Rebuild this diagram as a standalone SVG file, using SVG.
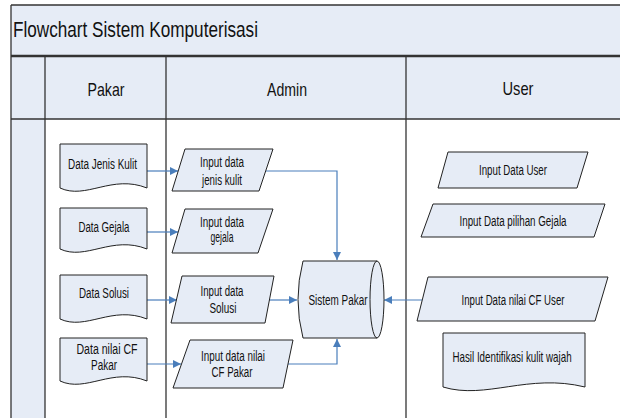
<svg xmlns="http://www.w3.org/2000/svg" width="620" height="418" viewBox="0 0 620 418">
<style>
.lane{fill:#E6ECF6;stroke:none}
.ln{stroke:#333;stroke-width:1.3;fill:none}
.shp{fill:#E6ECF6;stroke:#222;stroke-width:1}
.t{font-family:"Liberation Sans",Arial,sans-serif;font-size:14px;fill:#111;text-anchor:middle}
.h{font-family:"Liberation Sans",Arial,sans-serif;font-size:19px;fill:#111;text-anchor:middle}
.ttl{font-family:"Liberation Sans",Arial,sans-serif;font-size:22px;fill:#111}
.c{fill:none;stroke:#4A7EBB;stroke-width:1.2;marker-end:url(#ah)}
</style>
<defs>
<marker id="ah" viewBox="0 0 10 10" refX="10" refY="5" markerWidth="9" markerHeight="8" markerUnits="userSpaceOnUse" orient="auto">
<path d="M0,0 L10,5 L0,10 z" fill="#4A7EBB"/>
</marker>
</defs>
<rect x="0" y="0" width="620" height="418" fill="#fff"/>
<g id="pool">
<rect class="lane" x="11" y="5" width="609" height="114"/>
<rect class="lane" x="11" y="119" width="34" height="299"/>
<line class="ln" x1="11" y1="5" x2="620" y2="5"/>
<line class="ln" x1="11" y1="5" x2="11" y2="418"/>
<line x1="11" y1="56" x2="620" y2="56" stroke="#333" stroke-width="2.5"/>
<line class="ln" x1="11" y1="119" x2="620" y2="119" stroke-width="1"/>
<line class="ln" x1="45" y1="56" x2="45" y2="418"/>
<line class="ln" x1="166" y1="56" x2="166" y2="418"/>
<line class="ln" x1="406" y1="56" x2="406" y2="418"/>
<text class="ttl" x="13" y="37" textLength="245" lengthAdjust="spacingAndGlyphs">Flowchart Sistem Komputerisasi</text>
<text class="h" x="106" y="96" textLength="37" lengthAdjust="spacingAndGlyphs">Pakar</text>
<text class="h" x="287" y="96" textLength="40" lengthAdjust="spacingAndGlyphs">Admin</text>
<text class="h" x="518" y="95" textLength="31" lengthAdjust="spacingAndGlyphs">User</text>
</g>
<g id="connectors">
<path class="c" d="M147,171 H178"/>
<path class="c" d="M147,232 H178"/>
<path class="c" d="M147,300 H177"/>
<path class="c" d="M147,364 H181"/>
<path class="c" d="M266,171 H337 V260"/>
<path class="c" d="M269,300 H297"/>
<path class="c" d="M288,364 H337 V339"/>
<path class="c" d="M422,300 H384"/>
</g>
<g id="data-jenis-kulit">
<path class="shp" d="M60,144 H147 V188 C112,174 86,200 60,188 Z"/>
<text class="t" x="102.5" y="169" textLength="69" lengthAdjust="spacingAndGlyphs">Data Jenis Kulit</text>
</g>
<g id="data-gejala">
<path class="shp" d="M60,208 H147 V249 C112,235 86,261 60,249 Z"/>
<text class="t" x="104" y="232" textLength="51" lengthAdjust="spacingAndGlyphs">Data Gejala</text>
</g>
<g id="data-solusi">
<path class="shp" d="M60,275 H147 V319 C112,305 86,331 60,319 Z"/>
<text class="t" x="104" y="298" textLength="50" lengthAdjust="spacingAndGlyphs">Data Solusi</text>
</g>
<g id="data-nilai-cf-pakar">
<path class="shp" d="M60,338 H147 V381 C112,367 86,393 60,381 Z"/>
<text class="t" x="107" y="354" textLength="61" lengthAdjust="spacingAndGlyphs">Data nilai CF</text>
<text class="t" x="104" y="370" textLength="26" lengthAdjust="spacingAndGlyphs">Pakar</text>
</g>
<g id="input-jenis-kulit">
<path class="shp" d="M185,149 H273 L259,191 H172 Z"/>
<text class="t" x="222" y="167" textLength="44" lengthAdjust="spacingAndGlyphs">Input data</text>
<text class="t" x="222" y="185" textLength="40" lengthAdjust="spacingAndGlyphs">jenis kulit</text>
</g>
<g id="input-gejala">
<path class="shp" d="M185,209 H273 L258,253 H172 Z"/>
<text class="t" x="222" y="227" textLength="44" lengthAdjust="spacingAndGlyphs">Input data</text>
<text class="t" x="222" y="242" textLength="23" lengthAdjust="spacingAndGlyphs">gejala</text>
</g>
<g id="input-solusi">
<path class="shp" d="M182,276 H274 L265,323 H171 Z"/>
<text class="t" x="222" y="296" textLength="43" lengthAdjust="spacingAndGlyphs">Input data</text>
<text class="t" x="223" y="313" textLength="27" lengthAdjust="spacingAndGlyphs">Solusi</text>
</g>
<g id="input-cf-pakar">
<path class="shp" d="M190,340 H293 L283,388 H173 Z"/>
<text class="t" x="233" y="361" textLength="64" lengthAdjust="spacingAndGlyphs">Input data nilai</text>
<text class="t" x="232" y="377" textLength="41" lengthAdjust="spacingAndGlyphs">CF Pakar</text>
</g>
<g id="sistem-pakar">
<path class="shp" d="M303,261 H377 A7,38.5 0 0 1 377,338 H303 Q293,299.5 303,261 Z"/>
<path d="M377,261 A7,38.5 0 0 0 377,338" fill="none" stroke="#222" stroke-width="1"/>
<text class="t" x="338" y="305" textLength="59" lengthAdjust="spacingAndGlyphs">Sistem Pakar</text>
</g>
<g id="input-data-user">
<path class="shp" d="M448,152 H588 L577,188 H438 Z"/>
<text class="t" x="513" y="175" textLength="68" lengthAdjust="spacingAndGlyphs">Input Data User</text>
</g>
<g id="input-pilihan-gejala">
<path class="shp" d="M433,204 H605 L594,237 H421 Z"/>
<text class="t" x="513" y="226" textLength="107" lengthAdjust="spacingAndGlyphs">Input Data pilihan Gejala</text>
</g>
<g id="input-cf-user">
<path class="shp" d="M428,277 H608 L595,321 H417 Z"/>
<text class="t" x="513" y="305" textLength="103" lengthAdjust="spacingAndGlyphs">Input Data nilai CF User</text>
</g>
<g id="hasil">
<path class="shp" d="M443,333 H585 V387 C528,373 486,400 443,387 Z"/>
<text class="t" transform="translate(512,362) scale(0.7,1)" x="0" y="0">Hasil Identifikasi kulit wajah</text>
</g>
</svg>
